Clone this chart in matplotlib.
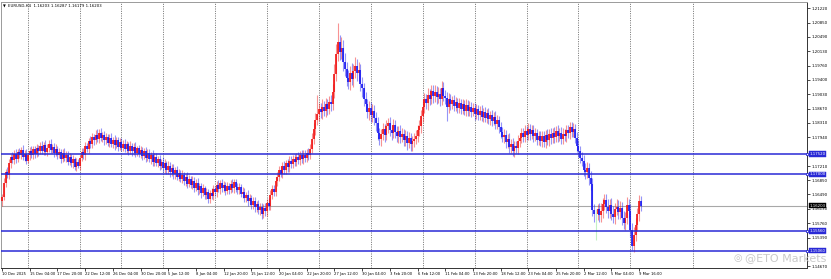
import matplotlib
matplotlib.use('Agg')
import matplotlib.pyplot as plt
import matplotlib.transforms as mtransforms
import numpy as np

W, H = 831, 279

C_UP = '#f01010'
C_DN = '#1414f0'
C_DOJI = '#7ee07e'
C_LEVEL = '#2a2ad6'
C_GRID = '#5a5a5a'

header = 'EURUSD,H4  1.16203 1.16287 1.16179 1.16203'
watermark = '@ETO Markets'

# H4 candles, 10 Dec 2025 .. 9 Mar 2026 (open = previous close)
first_open = 1.1632
closes = [
    1.1642, 1.1678, 1.1705, 1.1698, 1.1728, 1.1745, 1.1736, 1.1752, 1.1740, 1.1756,
    1.1748, 1.1762, 1.1745, 1.1752, 1.1735, 1.1748, 1.1760, 1.1750, 1.1764, 1.1752,
    1.1766, 1.1758, 1.1772, 1.1760, 1.1775, 1.1756, 1.1768, 1.1778, 1.1762, 1.1770,
    1.1755, 1.1764, 1.1748, 1.1756, 1.1740, 1.1754, 1.1742, 1.1750, 1.1732, 1.1744,
    1.1728, 1.1738, 1.1718, 1.1730, 1.1722, 1.1742, 1.1756, 1.1748, 1.1772, 1.1765,
    1.1784, 1.1776, 1.1795, 1.1786, 1.1800, 1.1790, 1.1806, 1.1792, 1.1800, 1.1786,
    1.1795, 1.1780, 1.1792, 1.1778, 1.1788, 1.1774, 1.1786, 1.1770, 1.1782, 1.1768,
    1.1778, 1.1764, 1.1776, 1.1760, 1.1772, 1.1758, 1.1770, 1.1755, 1.1766, 1.1752,
    1.1762, 1.1746, 1.1758, 1.1742, 1.1755, 1.1738, 1.1750, 1.1732, 1.1745, 1.1728,
    1.1738, 1.1722, 1.1732, 1.1715, 1.1728, 1.1710, 1.1722, 1.1705, 1.1716, 1.1700,
    1.1710, 1.1694, 1.1704, 1.1688, 1.1698, 1.1682, 1.1694, 1.1676, 1.1688, 1.1672,
    1.1684, 1.1666, 1.1678, 1.1660, 1.1670, 1.1652, 1.1664, 1.1648, 1.1655, 1.1638,
    1.1652, 1.1645, 1.1662, 1.1655, 1.1674, 1.1662, 1.1678, 1.1664, 1.1672, 1.1658,
    1.1670, 1.1660, 1.1676, 1.1664, 1.1680, 1.1668, 1.1660, 1.1668, 1.1650, 1.1656,
    1.1640, 1.1648, 1.1632, 1.1640, 1.1622, 1.1632, 1.1616, 1.1624, 1.1610, 1.1618,
    1.1600, 1.1614, 1.1606, 1.1628, 1.1620, 1.1648, 1.1662, 1.1655, 1.1682, 1.1694,
    1.1710, 1.1702, 1.1720, 1.1712, 1.1728, 1.1718, 1.1735, 1.1726, 1.1740, 1.1732,
    1.1744, 1.1736, 1.1748, 1.1738, 1.1750, 1.1742, 1.1755, 1.1748, 1.1765, 1.1790,
    1.1815, 1.1838, 1.1852, 1.1866, 1.1858, 1.1872, 1.1862, 1.1878, 1.1866, 1.1884,
    1.1878, 1.1910, 1.1955, 1.2005, 1.2035, 1.2010, 1.2022, 1.1985, 1.1968, 1.1945,
    1.1935, 1.1958, 1.1942, 1.1962, 1.1975, 1.1958, 1.1965, 1.1930, 1.1918, 1.1892,
    1.1878, 1.1858, 1.1868, 1.1850, 1.1862, 1.1842, 1.1830, 1.1805, 1.1790, 1.1802,
    1.1815, 1.1800, 1.1822, 1.1830, 1.1812, 1.1806, 1.1824, 1.1808, 1.1796, 1.1810,
    1.1795, 1.1802, 1.1788, 1.1796, 1.1780, 1.1792, 1.1776, 1.1784, 1.1790, 1.1798,
    1.1812, 1.1822, 1.1848, 1.1872, 1.1890, 1.1880, 1.1902, 1.1892, 1.1912, 1.1898,
    1.1910, 1.1896, 1.1905, 1.1890, 1.1918, 1.1900, 1.1894, 1.1870, 1.1890, 1.1878,
    1.1888, 1.1874, 1.1884, 1.1868, 1.1880, 1.1866, 1.1878, 1.1862, 1.1876, 1.1860,
    1.1872, 1.1858, 1.1868, 1.1852, 1.1866, 1.1850, 1.1862, 1.1846, 1.1858, 1.1844,
    1.1855, 1.1840, 1.1850, 1.1836, 1.1846, 1.1828, 1.1838, 1.1820, 1.1808, 1.1795,
    1.1800, 1.1782, 1.1790, 1.1770, 1.1778, 1.1760, 1.1772, 1.1766, 1.1785, 1.1792,
    1.1805, 1.1795, 1.1810, 1.1800, 1.1815, 1.1802, 1.1812, 1.1796, 1.1804, 1.1788,
    1.1798, 1.1784, 1.1796, 1.1782, 1.1800, 1.1788, 1.1802, 1.1792, 1.1806, 1.1794,
    1.1810, 1.1798, 1.1806, 1.1790, 1.1802, 1.1796, 1.1812, 1.1804, 1.1820, 1.1808,
    1.1816, 1.1792, 1.1772, 1.1760, 1.1742, 1.1735, 1.1712, 1.1705, 1.1715, 1.1690,
    1.1675, 1.1610, 1.1598, 1.1598, 1.1612, 1.1596, 1.1608, 1.1625, 1.1634, 1.1618,
    1.1606, 1.1622, 1.1600, 1.1592, 1.1612, 1.1618, 1.1604, 1.1614, 1.1590, 1.1576,
    1.1588, 1.1622, 1.1606, 1.1558, 1.1518, 1.1546, 1.1572, 1.1598, 1.1632, 1.16203,
]
# upper / lower shadow beyond the body, in pips
up_wick = [
    8, 12, 9, 14, 10, 7, 12, 9, 11, 8,   10, 7, 12, 9, 11, 8, 10, 13, 7, 9,
    11, 8, 10, 13, 7, 12, 9, 8, 11, 7,   9, 12, 8, 10, 7, 9, 13, 8, 10, 11,
    8, 10, 7, 11, 9, 8, 12, 10, 11, 8,   9, 13, 10, 8, 12, 14, 9, 11, 8, 10,
    11, 8, 10, 12, 7, 11, 9, 8, 11, 9,   8, 11, 9, 7, 12, 8, 10, 11, 7, 9,
    11, 8, 10, 12, 8, 9, 7, 11, 10, 8,   9, 11, 8, 12, 10, 7, 11, 8, 9, 11,
    8, 11, 10, 7, 12, 9, 8, 11, 10, 7,   11, 8, 10, 12, 8, 9, 11, 7, 10, 8,
    9, 12, 11, 8, 10, 11, 8, 10, 12, 8,   11, 8, 10, 12, 9, 8, 11, 10, 7, 11,
    10, 8, 11, 9, 8, 11, 10, 8, 11, 9,   8, 11, 12, 10, 11, 13, 11, 12, 10, 11,
    12, 10, 11, 13, 9, 11, 12, 11, 10, 12,   11, 12, 10, 13, 11, 12, 10, 11, 13, 16,
    15, 18, 50, 16, 14, 18, 15, 17, 14, 16,   18, 20, 24, 26, 48, 20, 26, 20, 24, 18,
    20, 16, 24, 18, 22, 17, 20, 16, 18, 15,   16, 14, 18, 15, 17, 14, 16, 15, 13, 14,
    15, 13, 16, 14, 15, 13, 17, 14, 15, 13,   14, 15, 13, 16, 14, 15, 13, 14, 16, 15,
    14, 16, 15, 18, 16, 15, 17, 14, 16, 15,   16, 14, 17, 15, 18, 16, 14, 15, 16, 14,
    12, 14, 13, 11, 14, 12, 13, 11, 14, 12,   13, 11, 14, 12, 13, 11, 12, 14, 11, 13,
    12, 14, 11, 13, 12, 14, 13, 11, 12, 13,   14, 12, 13, 15, 12, 14, 13, 12, 14, 13,
    12, 13, 14, 12, 15, 13, 12, 14, 13, 12,   13, 12, 14, 13, 12, 14, 13, 15, 12, 14,
    13, 14, 12, 13, 15, 14, 13, 12, 14, 13,   14, 13, 15, 14, 13, 15, 14, 16, 15, 14,
    18, 16, 15, 14, 12, 16, 18, 15, 17, 16,   18, 16, 17, 19, 15, 18, 16, 17, 15, 18,
    17, 20, 16, 19, 18, 20, 18, 17, 16, 12,
]
low_wick = [
    12, 8, 10, 7, 9, 12, 8, 9, 11, 8,   7, 9, 8, 11, 9, 7, 12, 8, 10, 11,
    8, 11, 7, 9, 12, 8, 10, 11, 7, 9,   11, 8, 9, 7, 12, 10, 8, 11, 9, 8,
    9, 11, 8, 10, 7, 11, 8, 9, 12, 8,   11, 8, 10, 12, 8, 9, 11, 8, 10, 11,
    8, 9, 11, 8, 10, 12, 8, 11, 9, 8,   9, 8, 11, 10, 8, 11, 9, 12, 8, 9,
    11, 10, 8, 11, 9, 8, 12, 10, 11, 8,   10, 11, 8, 9, 12, 10, 8, 11, 9, 12,
    11, 9, 12, 8, 11, 10, 12, 11, 9, 8,   10, 11, 8, 12, 9, 11, 8, 10, 11, 12,
    10, 8, 11, 9, 12, 8, 11, 10, 8, 11,   9, 11, 8, 10, 11, 12, 9, 11, 8, 10,
    11, 10, 12, 11, 9, 11, 12, 13, 11, 14,   14, 12, 11, 13, 10, 11, 12, 10, 11, 12,
    11, 10, 12, 11, 10, 12, 11, 10, 11, 12,   10, 11, 12, 10, 11, 10, 12, 11, 10, 11,
    14, 15, 13, 16, 15, 18, 14, 16, 15, 14,   16, 14, 15, 18, 16, 20, 18, 22, 18, 20,
    18, 21, 16, 20, 18, 22, 20, 18, 21, 19,   18, 16, 20, 17, 18, 16, 19, 18, 16, 17,
    15, 17, 14, 16, 15, 18, 14, 16, 15, 17,   16, 14, 17, 15, 18, 14, 16, 17, 15, 14,
    15, 14, 16, 15, 17, 14, 16, 15, 14, 16,   15, 17, 14, 16, 15, 14, 16, 34, 15, 14,
    13, 12, 14, 13, 12, 14, 13, 12, 14, 13,   12, 13, 11, 14, 12, 13, 12, 11, 13, 12,
    13, 12, 14, 13, 12, 13, 14, 15, 17, 14,   15, 14, 16, 15, 17, 14, 15, 13, 14, 15,
    13, 14, 12, 13, 14, 15, 13, 14, 12, 13,   14, 13, 15, 12, 14, 13, 15, 14, 13, 14,
    13, 15, 14, 13, 14, 12, 15, 13, 14, 13,   14, 13, 15, 16, 14, 15, 17, 16, 15, 17,
    16, 17, 19, 64, 15, 17, 16, 18, 15, 17,   16, 18, 17, 15, 17, 16, 18, 17, 19, 16,
    17, 15, 18, 17, 10, 16, 15, 17, 16, 14,
]

time_labels = ['10 Dec 2025', '15 Dec 04:00', '17 Dec 20:00', '22 Dec 12:00', '26 Dec 04:00',
               '30 Dec 20:00', '5 Jan 12:00', '8 Jan 04:00', '12 Jan 20:00', '15 Jan 12:00',
               '20 Jan 04:00', '22 Jan 20:00', '27 Jan 12:00', '30 Jan 04:00', '3 Feb 20:00',
               '6 Feb 12:00', '11 Feb 04:00', '13 Feb 20:00', '18 Feb 12:00', '23 Feb 04:00',
               '25 Feb 20:00', '2 Mar 12:00', '5 Mar 04:00', '9 Mar 16:00']
week_starts = [15, 45, 69, 93, 123, 153, 183, 213, 243, 273, 303, 333, 363, 399]
# 1.17580 and 1.15030 sit under the line labels in the reference, so they are not shown
price_ticks = [1.14670, 1.15390, 1.15760, 1.16130, 1.16490, 1.16850, 1.17210,
               1.17940, 1.18310, 1.18670, 1.19030, 1.19400, 1.19760, 1.20130,
               1.20490, 1.20850, 1.21220]
levels = [1.17520, 1.17000, 1.15560, 1.15060]
last_price = 1.16203

closes = np.array(closes)
opens = np.concatenate([[first_open], closes[:-1]])
body_lo = np.minimum(opens, closes)
body_hi = np.maximum(opens, closes)
highs = body_hi + np.array(up_wick) * 1e-4
lows = body_lo - np.array(low_wick) * 1e-4
idx = np.arange(len(closes))

fig = plt.figure(figsize=(W / 100, H / 100), dpi=100)
fig.patch.set_facecolor('white')
ax = fig.add_axes([1 / W, 1 - 268 / H, 806 / W, 266 / H])
ax.set_xlim(-0.6, 465)
ax.set_ylim(1.14620, 1.21376)

for w in week_starts:
    ax.axvline(w, color=C_GRID, lw=0.6, ls=(0, (1.2, 1.6)), zorder=1)
ax.axhline(last_price, color='#a8a8a8', lw=0.8, zorder=1)

up = closes > opens
dn = closes < opens
dj = closes == opens
for m, c in [(up, C_UP), (dn, C_DN), (dj, C_DOJI)]:
    ax.vlines(idx[m], lows[m], highs[m], color=c, lw=0.8, alpha=0.45, zorder=2)
    ax.vlines(idx[m], body_lo[m], body_hi[m], color=c, lw=1.2, zorder=3)

trans = mtransforms.blended_transform_factory(ax.transAxes, ax.transData)
for lv in levels:
    ax.axhline(lv, color=C_LEVEL, lw=1.1, zorder=4)
    ax.plot([1.0], [lv], transform=trans, marker='s', ms=2, mfc='white', mec=C_LEVEL,
            mew=0.6, clip_on=False, zorder=5)

ax.set_xticks([k * 16 for k in range(len(time_labels))], time_labels)
for lab in ax.get_xticklabels():
    lab.set_horizontalalignment('left')
ax.tick_params(axis='x', length=2, width=0.5, pad=0.6, labelsize=2.7, colors='black')
ax.yaxis.tick_right()
ax.set_yticks(price_ticks, [f'{p:.5f}' for p in price_ticks])
ax.tick_params(axis='y', length=2, width=0.5, pad=1.2, labelsize=2.8, colors='black')
for s in ax.spines.values():
    s.set_linewidth(0.7)
    s.set_color('#333333')
ax.spines['top'].set_color('#9a9a9a')
ax.spines['left'].set_color('#9a9a9a')

for lv in levels:
    ax.text(1.003, lv, f'{lv:.5f}', transform=trans, fontsize=2.8, color='white',
            va='center', ha='left', zorder=6, clip_on=False,
            bbox=dict(boxstyle='square,pad=0.2', fc=C_LEVEL, ec=C_LEVEL, lw=0.3))
ax.text(1.003, last_price, f'{last_price:.5f}', transform=trans, fontsize=2.8, color='white',
        va='center', ha='left', zorder=6, clip_on=False,
        bbox=dict(boxstyle='square,pad=0.2', fc='black', ec='black', lw=0.3))

fig.text(3 / W, 1 - 6 / H, '\u25bc', fontsize=2.6, va='center', ha='left')
fig.text(8 / W, 1 - 6 / H, header, fontsize=2.8, va='center', ha='left')
fig.text(733 / W, 1 - 258 / H, '\u25ce', fontsize=7, color='#c4c4c4', va='center', ha='left')
fig.text(745 / W, 1 - 258 / H, watermark, fontsize=8, color='#c4c4c4', va='center',
         ha='left', alpha=0.9)

fig.savefig('out.png', dpi=100, facecolor='white')
